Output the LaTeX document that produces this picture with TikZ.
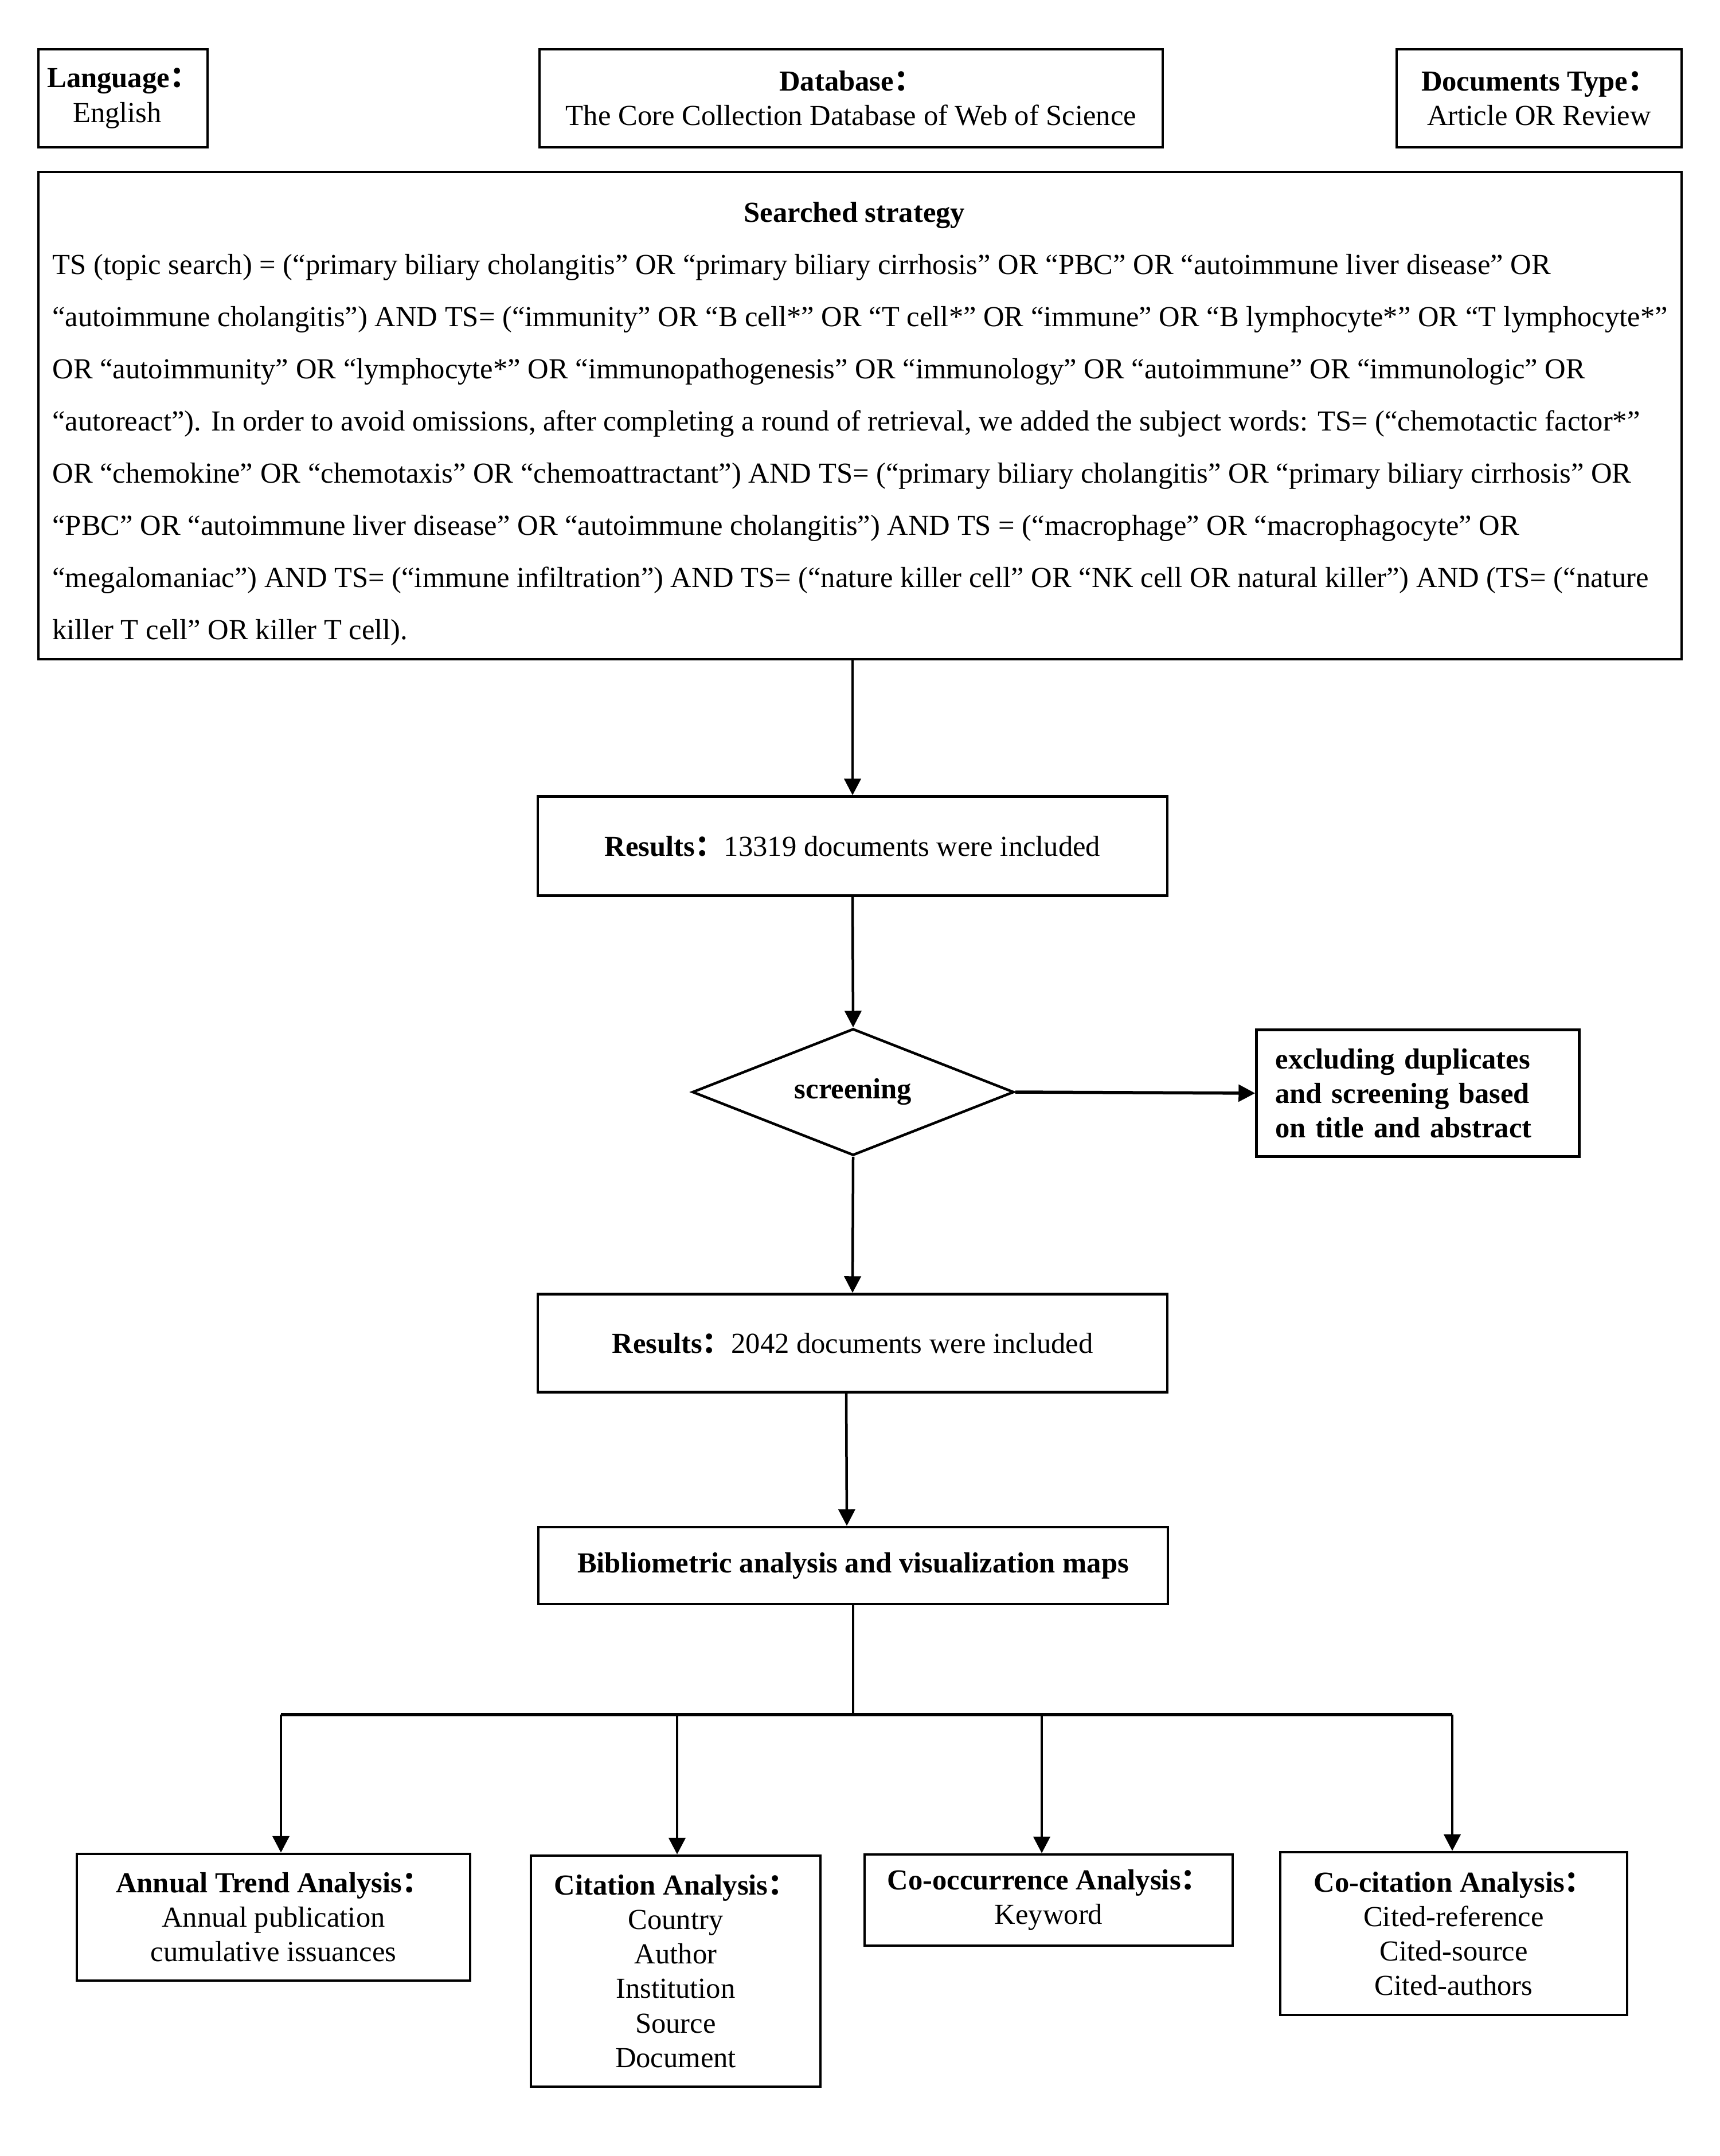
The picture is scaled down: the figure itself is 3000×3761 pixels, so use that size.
\documentclass[tikz,border=0pt]{standalone}
\usepackage{fontspec}
\setmainfont{Liberation Serif}
\newfontfamily\cjkfont{Noto Sans CJK SC}
\usetikzlibrary{arrows.meta,shapes.geometric}
\newcommand{\fcolon}{{\cjkfont ：}}
\begin{document}
\begin{tikzpicture}[x=0.1mm,y=-0.1mm,
  box/.style={draw, line width=0.45mm, align=center, inner sep=0pt,
    font=\fontsize{14.4}{17.1}\selectfont},
  conn/.style={line width=0.45mm},
  arr/.style={conn, -{Triangle[length=2.9mm,width=2.9mm]}},
  thickarr/.style={line width=0.55mm, -{Triangle[length=2.9mm,width=2.9mm]}},
]
\useasboundingbox[fill=white] (0,0) rectangle (3000,3761);

% top row
\node[box, minimum width=29.5mm, minimum height=17.1mm] (lang) at (214.5,171.5)
  {\textbf{Language\fcolon}\\\hspace*{-2mm}English};
\node[box, minimum width=108.7mm, minimum height=17.1mm] (db) at (1484.5,171.5)
  {\textbf{Database\fcolon}\\The Core Collection Database of Web of Science};
\node[box, minimum width=49.7mm, minimum height=17.1mm] (doc) at (2684.5,171.5)
  {\textbf{Documents Type\fcolon}\\Article OR Review};

% strategy
\node[box, minimum width=286.6mm, minimum height=85mm, align=left,
  font=\fontsize{14.4}{25.9}\selectfont] (strat) at (1500,725)
  {\makebox[279.8mm]{\rule{0pt}{18pt}\textbf{Searched strategy}}\\
   TS (topic search) = (“primary biliary cholangitis” OR “primary biliary cirrhosis” OR “PBC” OR “autoimmune liver disease” OR\\
   “autoimmune cholangitis”) AND TS= (“immunity” OR “B cell*” OR “T cell*” OR “immune” OR “B lymphocyte*” OR “T lymphocyte*”\\
   OR “autoimmunity” OR “lymphocyte*” OR “immunopathogenesis” OR “immunology” OR “autoimmune” OR “immunologic” OR\\
   “autoreact”). In order to avoid omissions, after completing a round of retrieval, we added the subject words: TS= (“chemotactic factor*”\\
   OR “chemokine” OR “chemotaxis” OR “chemoattractant”) AND TS= (“primary biliary cholangitis” OR “primary biliary cirrhosis” OR\\
   “PBC” OR “autoimmune liver disease” OR “autoimmune cholangitis”) AND TS = (“macrophage” OR “macrophagocyte” OR\\
   “megalomaniac”) AND TS= (“immune infiltration”) AND TS= (“nature killer cell” OR “NK cell OR natural killer”) AND (TS= (“nature\\
   killer T cell” OR killer T cell).};

% flow
\node[box, minimum width=109.8mm, minimum height=17.3mm] (res1) at (1487,1476)
  {\textbf{Results\fcolon}13319 documents were included};
\node[draw, diamond, aspect=2.5, line width=0.45mm, minimum width=56.1mm, minimum height=22.1mm,
  inner sep=0pt, font=\fontsize{14.4}{17.1}\selectfont\bfseries] (dia) at (1488,1905) {screening};
\node[box, align=left, text width=49.7mm, inner xsep=3.3mm, minimum height=22.1mm,
  font=\fontsize{14.4}{17.1}\selectfont\bfseries] (excl) at (2473,1907)
  {excluding duplicates\\and screening based\\on title and abstract};
\node[box, minimum width=109.8mm, minimum height=17.1mm] (res2) at (1487,2343)
  {\textbf{Results\fcolon}2042 documents were included};
\node[box, minimum width=109.8mm, minimum height=13.4mm] (bib) at (1488,2731)
  {\textbf{Bibliometric analysis and visualization maps}};

% bottom boxes
\node[box, minimum width=68.6mm, minimum height=22.1mm] (c1) at (477,3344.5)
  {\textbf{Annual Trend Analysis\fcolon}\\Annual publication\\cumulative issuances};
\node[box, minimum width=50.5mm, minimum height=40.3mm] (c2) at (1178.5,3438.5)
  {\textbf{Citation Analysis\fcolon}\\Country\\Author\\Institution\\Source\\Document};
\node[box, minimum width=64.2mm, minimum height=15.9mm] (c3) at (1829,3314.5)
  {\textbf{Co-occurrence Analysis\fcolon}\\Keyword};
\node[box, minimum width=60.5mm, minimum height=28.4mm] (c4) at (2535.5,3373)
  {\textbf{Co-citation Analysis\fcolon}\\Cited-reference\\Cited-source\\Cited-authors};

% connectors
\draw[arr] (res1.north |- strat.south) -- (res1.north);
\draw[arr] (res1.south) -- (dia.north);
\draw[thickarr] (dia.east) -- (excl.west);
\draw[arr] (dia.south) -- (res2.north);
\draw[arr] ([xshift=-1.1mm]res2.south) -- ([xshift=-1.1mm]bib.north);

\coordinate (j) at (1490,2991);
\coordinate (b1) at (490,2991);
\coordinate (b2) at (1181,2991);
\coordinate (b3) at (1817,2991);
\coordinate (b4) at (2533,2991);
\draw[conn] (bib.south) -- (bib.south |- j);
\draw[line width=0.6mm] (b1) -- (b4);
\draw[arr] (b1) -- (b1 |- c1.north);
\draw[arr] (b2) -- (b2 |- c2.north);
\draw[arr] (b3) -- (b3 |- c3.north);
\draw[arr] (b4) -- (b4 |- c4.north);
\end{tikzpicture}
\end{document}
